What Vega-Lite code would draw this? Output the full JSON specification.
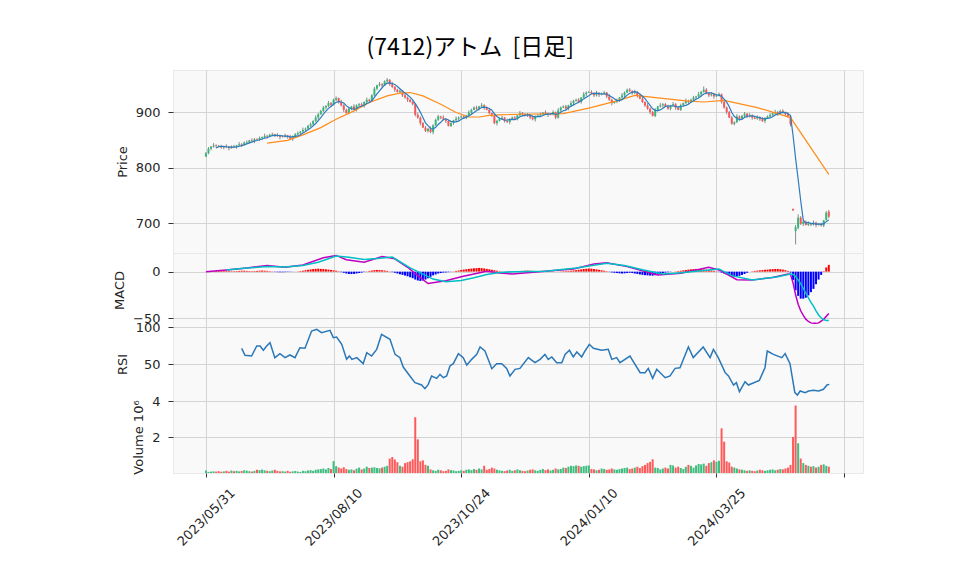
{
"$schema": "https://vega.github.io/schema/vega-lite/v6.json",
"background": "white",
"padding": {"left": 113, "top": 36, "right": 0, "bottom": 0},
"title": {"text": "(7412)アトム\u00a0 [日足]", "font": "Noto Sans CJK JP", "fontSize": 23, "fontWeight": "normal", "color": "#000000", "anchor": "middle", "frame": "bounds", "dx": -18, "offset": 10},
"spacing": 0,
"bounds": "flush",
"config": {
  "view": {"fill": "#f9f9f9", "stroke": "#e8e8e8", "strokeWidth": 1},
  "axis": {"labelFont": "DejaVu Sans", "titleFont": "DejaVu Sans", "labelFontSize": 13, "titleFontSize": 13, "titleFontWeight": "normal", "labelColor": "#262626", "titleColor": "#262626", "gridColor": "#d4d4d4", "gridWidth": 1, "tickColor": "#333333", "domain": false, "labelFlush": false}
},
"datasets": {
"bars": [
{"i":0,"o":820,"h":828,"l":819,"c":826,"v":0.14,"vu":1,"m":0},
{"i":1,"o":826,"h":837,"l":824,"c":834,"v":0.06,"vu":1,"m":0},
{"i":2,"o":834,"h":839,"l":831,"c":838,"v":0.08,"vu":1,"m":0},
{"i":3,"o":838,"h":844,"l":836,"c":840,"v":0.09,"vu":1,"m":0.5},
{"i":4,"o":840,"h":842,"l":835,"c":839,"v":0.08,"vu":0,"m":0.8,"a":835.4},
{"i":5,"o":839,"h":841,"l":837,"c":838,"v":0.10,"vu":0,"m":1,"a":837.8},
{"i":6,"o":838,"h":841,"l":834,"c":836,"v":0.07,"vu":0,"m":1,"a":838.2},
{"i":7,"o":836,"h":839,"l":833,"c":838,"v":0.09,"vu":1,"m":1,"a":838.2},
{"i":8,"o":838,"h":842,"l":835,"c":837,"v":0.12,"vu":0,"m":0.8,"a":837.6},
{"i":9,"o":837,"h":839,"l":831,"c":835,"v":0.08,"vu":0,"m":0.6,"a":836.8},
{"i":10,"o":835,"h":840,"l":834,"c":838,"v":0.14,"vu":1,"m":0.5,"a":836.8},
{"i":11,"o":838,"h":841,"l":835,"c":837,"v":0.10,"vu":0,"m":0.5,"a":837},
{"i":12,"o":837,"h":841,"l":834,"c":840,"v":0.12,"vu":1,"m":0.6,"a":837.4},
{"i":13,"o":840,"h":846,"l":838,"c":842,"v":0.09,"vu":1,"m":0.8,"a":838.4},
{"i":14,"o":842,"h":844,"l":837,"c":841,"v":0.11,"vu":0,"m":1,"a":839.6},
{"i":15,"o":841,"h":847,"l":840,"c":845,"v":0.15,"vu":1,"m":1,"a":841},
{"i":16,"o":845,"h":849,"l":843,"c":846,"v":0.13,"vu":1,"m":0.8,"a":842.8},
{"i":17,"o":846,"h":850,"l":843,"c":849,"v":0.10,"vu":1,"m":0.6,"a":844.6},
{"i":18,"o":849,"h":853,"l":846,"c":848,"v":0.08,"vu":0,"m":0.5,"a":845.8},
{"i":19,"o":848,"h":853,"l":844,"c":851,"v":0.12,"vu":1,"m":0.6,"a":847.8},
{"i":20,"o":851,"h":853,"l":849,"c":850,"v":0.18,"vu":0,"m":0.8,"a":848.8},
{"i":21,"o":850,"h":856,"l":848,"c":853,"v":0.16,"vu":1,"m":1,"a":850.2},
{"i":22,"o":853,"h":856,"l":850,"c":855,"v":0.19,"vu":1,"m":1.2,"a":851.4},
{"i":23,"o":855,"h":861,"l":853,"c":857,"v":0.15,"vu":1,"m":1,"a":853.2},
{"i":24,"o":857,"h":859,"l":852,"c":856,"v":0.12,"vu":0,"m":0.8,"a":854.2},
{"i":25,"o":856,"h":861,"l":855,"c":859,"v":0.10,"vu":1,"m":0.5,"a":856},
{"i":26,"o":859,"h":863,"l":857,"c":860,"v":0.14,"vu":1,"m":0.3,"a":857.4},
{"i":27,"o":860,"h":861,"l":855,"c":858,"v":0.18,"vu":0,"m":-0.3,"a":858},
{"i":28,"o":858,"h":862,"l":855,"c":857,"v":0.12,"vu":0,"m":-0.5,"a":858},
{"i":29,"o":857,"h":859,"l":851,"c":855,"v":0.09,"vu":0,"m":-0.6,"a":857.8},
{"i":30,"o":855,"h":858,"l":854,"c":856,"v":0.10,"vu":1,"m":-0.6,"a":857.2},
{"i":31,"o":856,"h":861,"l":854,"c":858,"v":0.08,"vu":1,"m":-0.5,"a":856.8},
{"i":32,"o":858,"h":859,"l":852,"c":855,"v":0.12,"vu":0,"m":-0.4,"a":856.2},
{"i":33,"o":855,"h":859,"l":850,"c":852,"v":0.07,"vu":0,"m":-0.3,"a":855.2},
{"i":34,"o":852,"h":858,"l":848,"c":856,"v":0.09,"vu":1,"m":-0.2,"a":855.4},
{"i":35,"o":856,"h":862,"l":855,"c":860,"v":0.11,"vu":1,"m":-0.1,"a":856.2},
{"i":36,"o":860,"h":865,"l":858,"c":862,"v":0.08,"vu":1,"m":0.3,"a":857},
{"i":37,"o":862,"h":866,"l":859,"c":865,"v":0.06,"vu":1,"m":0.6,"a":859},
{"i":38,"o":865,"h":872,"l":863,"c":868,"v":0.12,"vu":1,"m":1,"a":862.2},
{"i":39,"o":868,"h":872,"l":864,"c":870,"v":0.10,"vu":1,"m":1.5,"a":865},
{"i":40,"o":870,"h":877,"l":869,"c":875,"v":0.14,"vu":1,"m":2,"a":868},
{"i":41,"o":875,"h":881,"l":873,"c":878,"v":0.16,"vu":1,"m":2.4,"a":871.2},
{"i":42,"o":878,"h":885,"l":875,"c":884,"v":0.12,"vu":1,"m":2.8,"a":875},
{"i":43,"o":884,"h":894,"l":882,"c":890,"v":0.18,"vu":1,"m":3,"a":879.4},
{"i":44,"o":890,"h":898,"l":886,"c":896,"v":0.20,"vu":1,"m":3.2,"a":884.6},
{"i":45,"o":896,"h":904,"l":895,"c":902,"v":0.22,"vu":1,"m":3,"a":890},
{"i":46,"o":902,"h":911,"l":900,"c":908,"v":0.25,"vu":1,"m":2.8,"a":896},
{"i":47,"o":908,"h":912,"l":905,"c":911,"v":0.20,"vu":1,"m":2.5,"a":901.4},
{"i":48,"o":911,"h":920,"l":909,"c":916,"v":0.28,"vu":1,"m":2.2,"a":906.6},
{"i":49,"o":916,"h":918,"l":909,"c":913,"v":0.22,"vu":0,"m":1.8,"a":910},
{"i":50,"o":913,"h":924,"l":912,"c":922,"v":0.66,"vu":1,"m":1.4,"a":914},
{"i":51,"o":922,"h":928,"l":920,"c":925,"v":0.38,"vu":1,"m":1,"a":917.4},
{"i":52,"o":925,"h":926,"l":915,"c":918,"v":0.30,"vu":0,"m":0.5,"a":918.8},
{"i":53,"o":918,"h":922,"l":910,"c":912,"v":0.25,"vu":0,"m":-0.5,"a":918},
{"i":54,"o":912,"h":914,"l":900,"c":904,"v":0.32,"vu":0,"m":-1.2,"a":916.2},
{"i":55,"o":904,"h":906,"l":897,"c":898,"v":0.22,"vu":0,"m":-2,"a":911.4},
{"i":56,"o":898,"h":909,"l":896,"c":906,"v":0.18,"vu":1,"m":-2.5,"a":907.6},
{"i":57,"o":906,"h":911,"l":903,"c":910,"v":0.20,"vu":1,"m":-2.6,"a":906},
{"i":58,"o":910,"h":914,"l":903,"c":905,"v":0.15,"vu":0,"m":-2.4,"a":904.6},
{"i":59,"o":905,"h":914,"l":901,"c":912,"v":0.24,"vu":1,"m":-2,"a":906.2},
{"i":60,"o":912,"h":916,"l":911,"c":914,"v":0.30,"vu":1,"m":-1.5,"a":909.4},
{"i":61,"o":914,"h":917,"l":909,"c":911,"v":0.20,"vu":0,"m":-1,"a":910.4},
{"i":62,"o":911,"h":919,"l":908,"c":918,"v":0.25,"vu":1,"m":-0.4,"a":912},
{"i":63,"o":918,"h":926,"l":916,"c":922,"v":0.35,"vu":1,"m":0.3,"a":915.4},
{"i":64,"o":922,"h":924,"l":916,"c":920,"v":0.28,"vu":0,"m":0.8,"a":917},
{"i":65,"o":920,"h":932,"l":919,"c":930,"v":0.30,"vu":1,"m":1.2,"a":920.2},
{"i":66,"o":930,"h":945,"l":928,"c":942,"v":0.32,"vu":1,"m":1.6,"a":926.4},
{"i":67,"o":942,"h":949,"l":939,"c":948,"v":0.28,"vu":1,"m":1.8,"a":932.4},
{"i":68,"o":948,"h":954,"l":946,"c":950,"v":0.26,"vu":1,"m":1.7,"a":938},
{"i":69,"o":950,"h":952,"l":944,"c":948,"v":0.30,"vu":0,"m":1.5,"a":943.6},
{"i":70,"o":948,"h":957,"l":947,"c":955,"v":0.35,"vu":1,"m":1.2,"a":948.6},
{"i":71,"o":955,"h":961,"l":953,"c":958,"v":0.40,"vu":1,"m":0.8,"a":951.8},
{"i":72,"o":958,"h":959,"l":947,"c":950,"v":0.80,"vu":0,"m":0.3,"a":952.2},
{"i":73,"o":950,"h":954,"l":943,"c":945,"v":0.89,"vu":0,"m":-0.5,"a":951.2},
{"i":74,"o":945,"h":947,"l":936,"c":940,"v":0.75,"vu":0,"m":-1.2,"a":949.6},
{"i":75,"o":940,"h":942,"l":935,"c":936,"v":0.60,"vu":0,"m":-2,"a":945.8},
{"i":76,"o":936,"h":941,"l":934,"c":938,"v":0.40,"vu":1,"m":-2.8,"a":941.8},
{"i":77,"o":938,"h":939,"l":927,"c":930,"v":0.35,"vu":0,"m":-3.5,"a":937.8},
{"i":78,"o":930,"h":934,"l":924,"c":926,"v":0.55,"vu":0,"m":-4.2,"a":934},
{"i":79,"o":926,"h":928,"l":918,"c":922,"v":0.60,"vu":0,"m":-5,"a":930.4},
{"i":80,"o":922,"h":924,"l":917,"c":918,"v":0.65,"vu":0,"m":-6,"a":926.8},
{"i":81,"o":918,"h":921,"l":912,"c":914,"v":0.76,"vu":0,"m":-7,"a":922},
{"i":82,"o":914,"h":916,"l":892,"c":895,"v":3.10,"vu":0,"m":-8.5,"a":915},
{"i":83,"o":895,"h":899,"l":888,"c":890,"v":1.87,"vu":0,"m":-9.5,"a":907.8},
{"i":84,"o":890,"h":892,"l":876,"c":880,"v":0.65,"vu":0,"m":-10,"a":899.4},
{"i":85,"o":880,"h":882,"l":871,"c":872,"v":0.70,"vu":0,"m":-9.5,"a":890.2},
{"i":86,"o":872,"h":875,"l":864,"c":866,"v":0.45,"vu":0,"m":-8.5,"a":880.6},
{"i":87,"o":866,"h":871,"l":863,"c":870,"v":0.40,"vu":1,"m":-7,"a":875.6},
{"i":88,"o":870,"h":874,"l":862,"c":864,"v":0.20,"vu":0,"m":-5.5,"a":870.4},
{"i":89,"o":864,"h":878,"l":860,"c":876,"v":0.15,"vu":1,"m":-4,"a":869.6},
{"i":90,"o":876,"h":888,"l":875,"c":886,"v":0.12,"vu":1,"m":-3,"a":872.4},
{"i":91,"o":886,"h":895,"l":884,"c":892,"v":0.18,"vu":1,"m":-2,"a":877.6},
{"i":92,"o":892,"h":893,"l":887,"c":890,"v":0.15,"vu":0,"m":-1.5,"a":881.6},
{"i":93,"o":890,"h":894,"l":885,"c":887,"v":0.10,"vu":0,"m":-1,"a":886.2},
{"i":94,"o":887,"h":889,"l":880,"c":884,"v":0.12,"vu":0,"m":-0.8,"a":887.8},
{"i":95,"o":884,"h":886,"l":874,"c":875,"v":0.20,"vu":0,"m":-0.5,"a":885.6},
{"i":96,"o":875,"h":883,"l":873,"c":880,"v":0.16,"vu":1,"m":-0.2,"a":883.2},
{"i":97,"o":880,"h":886,"l":877,"c":885,"v":0.14,"vu":1,"m":0.3,"a":882.2},
{"i":98,"o":885,"h":892,"l":883,"c":888,"v":0.10,"vu":1,"m":0.8,"a":882.4},
{"i":99,"o":888,"h":892,"l":884,"c":890,"v":0.12,"vu":1,"m":1.2,"a":883.6},
{"i":100,"o":890,"h":894,"l":889,"c":892,"v":0.15,"vu":1,"m":1.8,"a":887},
{"i":101,"o":892,"h":895,"l":888,"c":890,"v":0.12,"vu":0,"m":2.2,"a":889},
{"i":102,"o":890,"h":895,"l":887,"c":894,"v":0.18,"vu":1,"m":2.6,"a":890.8},
{"i":103,"o":894,"h":903,"l":892,"c":899,"v":0.20,"vu":1,"m":3,"a":893},
{"i":104,"o":899,"h":906,"l":895,"c":904,"v":0.16,"vu":1,"m":3.3,"a":895.8},
{"i":105,"o":904,"h":910,"l":903,"c":908,"v":0.22,"vu":1,"m":3.6,"a":899},
{"i":106,"o":908,"h":911,"l":904,"c":906,"v":0.18,"vu":0,"m":3.8,"a":902.2},
{"i":107,"o":906,"h":911,"l":903,"c":910,"v":0.25,"vu":1,"m":4,"a":905.4},
{"i":108,"o":910,"h":916,"l":908,"c":912,"v":0.20,"vu":1,"m":3.8,"a":908},
{"i":109,"o":912,"h":914,"l":904,"c":908,"v":0.40,"vu":0,"m":3.4,"a":908.8},
{"i":110,"o":908,"h":910,"l":903,"c":904,"v":0.18,"vu":0,"m":3,"a":908},
{"i":111,"o":904,"h":907,"l":896,"c":898,"v":0.22,"vu":0,"m":2.5,"a":906.4},
{"i":112,"o":898,"h":899,"l":891,"c":894,"v":0.30,"vu":0,"m":2,"a":903.2},
{"i":113,"o":894,"h":898,"l":878,"c":880,"v":0.25,"vu":0,"m":1.5,"a":896.8},
{"i":114,"o":880,"h":886,"l":876,"c":884,"v":0.18,"vu":1,"m":1,"a":892},
{"i":115,"o":884,"h":890,"l":883,"c":888,"v":0.15,"vu":1,"m":0.5,"a":888.8},
{"i":116,"o":888,"h":893,"l":886,"c":890,"v":0.12,"vu":1,"m":0.2,"a":887.2},
{"i":117,"o":890,"h":891,"l":881,"c":884,"v":0.10,"vu":0,"m":-0.2,"a":885.2},
{"i":118,"o":884,"h":888,"l":880,"c":882,"v":0.14,"vu":0,"m":-0.5,"a":885.6},
{"i":119,"o":882,"h":889,"l":878,"c":887,"v":0.18,"vu":1,"m":-0.6,"a":886.2},
{"i":120,"o":887,"h":892,"l":886,"c":890,"v":0.12,"vu":1,"m":-0.5,"a":886.6},
{"i":121,"o":890,"h":893,"l":886,"c":888,"v":0.15,"vu":0,"m":-0.3,"a":886.2},
{"i":122,"o":888,"h":895,"l":885,"c":894,"v":0.20,"vu":1,"m":0,"a":888.2},
{"i":123,"o":894,"h":902,"l":892,"c":898,"v":0.16,"vu":1,"m":0.4,"a":891.4},
{"i":124,"o":898,"h":900,"l":892,"c":896,"v":0.12,"vu":0,"m":0.8,"a":893.2},
{"i":125,"o":896,"h":898,"l":892,"c":893,"v":0.10,"vu":0,"m":1,"a":893.8},
{"i":126,"o":893,"h":898,"l":891,"c":895,"v":0.14,"vu":1,"m":1.1,"a":895.2},
{"i":127,"o":895,"h":896,"l":887,"c":890,"v":0.18,"vu":0,"m":1,"a":894.4},
{"i":128,"o":890,"h":894,"l":885,"c":887,"v":0.20,"vu":0,"m":0.8,"a":892.2},
{"i":129,"o":887,"h":894,"l":883,"c":892,"v":0.15,"vu":1,"m":0.5,"a":891.4},
{"i":130,"o":892,"h":896,"l":891,"c":894,"v":0.12,"vu":1,"m":0.3,"a":891.6},
{"i":131,"o":894,"h":899,"l":892,"c":896,"v":0.18,"vu":1,"m":0.2,"a":891.8},
{"i":132,"o":896,"h":900,"l":893,"c":899,"v":0.22,"vu":1,"m":0.3,"a":893.6},
{"i":133,"o":899,"h":903,"l":895,"c":897,"v":0.16,"vu":0,"m":0.2,"a":895.6},
{"i":134,"o":897,"h":899,"l":891,"c":895,"v":0.20,"vu":0,"m":0.1,"a":896.2},
{"i":135,"o":895,"h":898,"l":894,"c":896,"v":0.14,"vu":1,"m":0.1,"a":896.6},
{"i":136,"o":896,"h":903,"l":894,"c":900,"v":0.18,"vu":1,"m":0.2,"a":897.4},
{"i":137,"o":900,"h":901,"l":887,"c":890,"v":0.25,"vu":0,"m":0,"a":895.6},
{"i":138,"o":890,"h":907,"l":888,"c":903,"v":0.20,"vu":1,"m":0.2,"a":896.8},
{"i":139,"o":903,"h":910,"l":899,"c":908,"v":0.22,"vu":1,"m":0.3,"a":899.4},
{"i":140,"o":908,"h":912,"l":907,"c":910,"v":0.30,"vu":1,"m":0.5,"a":902.2},
{"i":141,"o":910,"h":913,"l":904,"c":906,"v":0.28,"vu":0,"m":0.6,"a":903.4},
{"i":142,"o":906,"h":913,"l":903,"c":912,"v":0.35,"vu":1,"m":0.8,"a":907.8},
{"i":143,"o":912,"h":920,"l":910,"c":916,"v":0.40,"vu":1,"m":1,"a":910.4},
{"i":144,"o":916,"h":922,"l":912,"c":920,"v":0.38,"vu":1,"m":1.3,"a":912.8},
{"i":145,"o":920,"h":924,"l":919,"c":922,"v":0.42,"vu":1,"m":1.6,"a":915.2},
{"i":146,"o":922,"h":925,"l":916,"c":918,"v":0.40,"vu":0,"m":2,"a":917.6},
{"i":147,"o":918,"h":927,"l":915,"c":926,"v":0.35,"vu":1,"m":2.4,"a":920.4},
{"i":148,"o":926,"h":936,"l":924,"c":932,"v":0.38,"vu":1,"m":2.8,"a":923.6},
{"i":149,"o":932,"h":937,"l":928,"c":935,"v":0.40,"vu":1,"m":3.1,"a":926.6},
{"i":150,"o":935,"h":938,"l":934,"c":936,"v":0.42,"vu":1,"m":3.3,"a":929.4},
{"i":151,"o":936,"h":939,"l":932,"c":934,"v":0.22,"vu":0,"m":3.2,"a":932.6},
{"i":152,"o":934,"h":935,"l":927,"c":930,"v":0.20,"vu":0,"m":2.8,"a":933.4},
{"i":153,"o":930,"h":938,"l":928,"c":934,"v":0.15,"vu":1,"m":2.4,"a":933.8},
{"i":154,"o":934,"h":936,"l":927,"c":931,"v":0.18,"vu":0,"m":2,"a":933},
{"i":155,"o":931,"h":935,"l":930,"c":933,"v":0.25,"vu":1,"m":1.5,"a":932.4},
{"i":156,"o":933,"h":938,"l":931,"c":935,"v":0.22,"vu":1,"m":1,"a":932.6},
{"i":157,"o":935,"h":936,"l":925,"c":928,"v":0.18,"vu":0,"m":0.5,"a":932.2},
{"i":158,"o":928,"h":932,"l":920,"c":922,"v":0.20,"vu":0,"m":-0.3,"a":929.8},
{"i":159,"o":922,"h":924,"l":912,"c":916,"v":0.25,"vu":0,"m":-0.8,"a":926.8},
{"i":160,"o":916,"h":920,"l":915,"c":918,"v":0.20,"vu":1,"m":-1.2,"a":923.8},
{"i":161,"o":918,"h":924,"l":916,"c":921,"v":0.18,"vu":1,"m":-1.5,"a":921},
{"i":162,"o":921,"h":927,"l":918,"c":926,"v":0.22,"vu":1,"m":-1.8,"a":920.6},
{"i":163,"o":926,"h":934,"l":924,"c":930,"v":0.25,"vu":1,"m":-2,"a":922.2},
{"i":164,"o":930,"h":937,"l":926,"c":935,"v":0.28,"vu":1,"m":-1.8,"a":926},
{"i":165,"o":935,"h":942,"l":934,"c":940,"v":0.30,"vu":1,"m":-1.5,"a":930.4},
{"i":166,"o":940,"h":943,"l":936,"c":938,"v":0.22,"vu":0,"m":-1.2,"a":933.8},
{"i":167,"o":938,"h":939,"l":931,"c":934,"v":0.25,"vu":0,"m":-1.5,"a":935.4},
{"i":168,"o":934,"h":940,"l":932,"c":936,"v":0.30,"vu":1,"m":-2,"a":936.6},
{"i":169,"o":936,"h":938,"l":926,"c":930,"v":0.35,"vu":0,"m":-2.5,"a":935.6},
{"i":170,"o":930,"h":932,"l":923,"c":924,"v":0.28,"vu":0,"m":-3,"a":932.4},
{"i":171,"o":924,"h":927,"l":916,"c":918,"v":0.38,"vu":0,"m":-3.5,"a":928.4},
{"i":172,"o":918,"h":919,"l":909,"c":912,"v":0.45,"vu":0,"m":-3.8,"a":924},
{"i":173,"o":912,"h":916,"l":904,"c":906,"v":0.55,"vu":0,"m":-4,"a":918},
{"i":174,"o":906,"h":908,"l":896,"c":900,"v":0.62,"vu":0,"m":-4.2,"a":912},
{"i":175,"o":900,"h":902,"l":892,"c":893,"v":0.76,"vu":0,"m":-4.3,"a":905.8},
{"i":176,"o":893,"h":907,"l":891,"c":904,"v":0.30,"vu":1,"m":-3.8,"a":903},
{"i":177,"o":904,"h":911,"l":901,"c":910,"v":0.28,"vu":1,"m":-3,"a":902.6},
{"i":178,"o":910,"h":916,"l":908,"c":912,"v":0.20,"vu":1,"m":-2.2,"a":903.8},
{"i":179,"o":912,"h":916,"l":908,"c":914,"v":0.25,"vu":1,"m":-1.5,"a":906.6},
{"i":180,"o":914,"h":916,"l":909,"c":910,"v":0.30,"vu":0,"m":-1,"a":910},
{"i":181,"o":910,"h":913,"l":904,"c":906,"v":0.25,"vu":0,"m":-0.6,"a":910.4},
{"i":182,"o":906,"h":913,"l":903,"c":912,"v":0.45,"vu":1,"m":-0.3,"a":910.8},
{"i":183,"o":912,"h":918,"l":910,"c":914,"v":0.42,"vu":1,"m":0,"a":911.2},
{"i":184,"o":914,"h":916,"l":904,"c":908,"v":0.30,"vu":0,"m":0.3,"a":910},
{"i":185,"o":908,"h":910,"l":903,"c":904,"v":0.35,"vu":0,"m":0.6,"a":908.8},
{"i":186,"o":904,"h":915,"l":902,"c":912,"v":0.28,"vu":1,"m":1,"a":910},
{"i":187,"o":912,"h":917,"l":909,"c":916,"v":0.22,"vu":1,"m":1.4,"a":910.8},
{"i":188,"o":916,"h":924,"l":914,"c":920,"v":0.35,"vu":1,"m":1.8,"a":912},
{"i":189,"o":920,"h":922,"l":914,"c":918,"v":0.45,"vu":0,"m":2.2,"a":914},
{"i":190,"o":918,"h":924,"l":917,"c":922,"v":0.40,"vu":1,"m":2.5,"a":917.6},
{"i":191,"o":922,"h":929,"l":920,"c":926,"v":0.30,"vu":1,"m":2.8,"a":920.4},
{"i":192,"o":926,"h":929,"l":923,"c":928,"v":0.42,"vu":1,"m":2.9,"a":922.8},
{"i":193,"o":928,"h":936,"l":926,"c":932,"v":0.50,"vu":1,"m":2.8,"a":925.2},
{"i":194,"o":932,"h":938,"l":928,"c":936,"v":0.48,"vu":1,"m":2.6,"a":928.8},
{"i":195,"o":936,"h":946,"l":935,"c":940,"v":0.52,"vu":1,"m":2.3,"a":932.4},
{"i":196,"o":940,"h":943,"l":932,"c":934,"v":0.40,"vu":0,"m":2,"a":934},
{"i":197,"o":934,"h":935,"l":927,"c":930,"v":0.55,"vu":0,"m":1.6,"a":934.4},
{"i":198,"o":930,"h":936,"l":928,"c":932,"v":0.60,"vu":1,"m":1.2,"a":934.4},
{"i":199,"o":932,"h":934,"l":924,"c":928,"v":0.70,"vu":0,"m":0.8,"a":932.8},
{"i":200,"o":928,"h":932,"l":927,"c":930,"v":0.62,"vu":1,"m":0.4,"a":930.8},
{"i":201,"o":930,"h":935,"l":928,"c":932,"v":0.68,"vu":1,"m":-0.3,"a":930.4},
{"i":202,"o":932,"h":933,"l":915,"c":918,"v":2.48,"vu":0,"m":-1,"a":928},
{"i":203,"o":918,"h":922,"l":906,"c":908,"v":1.74,"vu":0,"m":-2,"a":923.2},
{"i":204,"o":908,"h":910,"l":896,"c":900,"v":0.65,"vu":0,"m":-3,"a":917.6},
{"i":205,"o":900,"h":902,"l":889,"c":890,"v":0.58,"vu":0,"m":-4,"a":909.6},
{"i":206,"o":890,"h":893,"l":877,"c":879,"v":0.35,"vu":0,"m":-5,"a":899},
{"i":207,"o":879,"h":883,"l":876,"c":882,"v":0.30,"vu":1,"m":-5.4,"a":891.8},
{"i":208,"o":882,"h":896,"l":880,"c":892,"v":0.25,"vu":1,"m":-5.2,"a":888.6},
{"i":209,"o":892,"h":894,"l":884,"c":888,"v":0.20,"vu":0,"m":-4.5,"a":886.2},
{"i":210,"o":888,"h":895,"l":887,"c":893,"v":0.18,"vu":1,"m":-3.5,"a":886.8},
{"i":211,"o":893,"h":900,"l":891,"c":897,"v":0.15,"vu":1,"m":-2.5,"a":890.4},
{"i":212,"o":897,"h":898,"l":889,"c":892,"v":0.12,"vu":0,"m":-1.2,"a":892.4},
{"i":213,"o":892,"h":898,"l":890,"c":894,"v":0.15,"vu":1,"m":0,"a":892.8},
{"i":214,"o":894,"h":896,"l":886,"c":890,"v":0.12,"vu":0,"m":0.4,"a":893.2},
{"i":215,"o":890,"h":892,"l":887,"c":888,"v":0.10,"vu":0,"m":0.8,"a":892.2},
{"i":216,"o":888,"h":894,"l":886,"c":891,"v":0.14,"vu":1,"m":1.1,"a":891},
{"i":217,"o":891,"h":892,"l":884,"c":887,"v":0.18,"vu":0,"m":1.4,"a":890},
{"i":218,"o":887,"h":891,"l":882,"c":884,"v":0.15,"vu":0,"m":1.7,"a":888},
{"i":219,"o":884,"h":891,"l":880,"c":889,"v":0.12,"vu":1,"m":2,"a":887.8},
{"i":220,"o":889,"h":894,"l":888,"c":892,"v":0.15,"vu":1,"m":2.2,"a":888.6},
{"i":221,"o":892,"h":898,"l":890,"c":895,"v":0.18,"vu":1,"m":2.5,"a":889.4},
{"i":222,"o":895,"h":899,"l":892,"c":898,"v":0.20,"vu":1,"m":2.7,"a":891.6},
{"i":223,"o":898,"h":904,"l":896,"c":900,"v":0.15,"vu":1,"m":2.9,"a":894.8},
{"i":224,"o":900,"h":902,"l":893,"c":897,"v":0.18,"vu":0,"m":2.9,"a":896.4},
{"i":225,"o":897,"h":904,"l":896,"c":902,"v":0.22,"vu":1,"m":2.6,"a":898.4},
{"i":226,"o":902,"h":905,"l":898,"c":900,"v":0.20,"vu":0,"m":2.2,"a":899.4},
{"i":227,"o":900,"h":901,"l":893,"c":896,"v":0.25,"vu":0,"m":1.6,"a":899},
{"i":228,"o":896,"h":900,"l":890,"c":892,"v":0.30,"vu":0,"m":0.8,"a":897.4},
{"i":229,"o":892,"h":894,"l":874,"c":878,"v":0.45,"vu":0,"m":-1,"a":893.6},
{"i":230,"o":726,"h":726,"l":723,"c":723,"v":2.00,"vu":0,"m":-9,"a":857.8},
{"i":231,"o":686,"h":697,"l":662,"c":693,"v":3.75,"vu":0,"m":-20,"a":816.4},
{"i":232,"o":692,"h":716,"l":689,"c":710,"v":1.65,"vu":1,"m":-26,"a":779.2},
{"i":233,"o":710,"h":713,"l":697,"c":699,"v":0.80,"vu":0,"m":-29,"a":740.6},
{"i":234,"o":699,"h":705,"l":695,"c":703,"v":0.55,"vu":1,"m":-29,"a":705.6},
{"i":235,"o":703,"h":705,"l":696,"c":697,"v":0.45,"vu":0,"m":-28,"a":700.4},
{"i":236,"o":697,"h":703,"l":695,"c":700,"v":0.40,"vu":1,"m":-25.5,"a":701.8},
{"i":237,"o":700,"h":701,"l":695,"c":698,"v":0.35,"vu":0,"m":-22,"a":699.4},
{"i":238,"o":698,"h":705,"l":696,"c":701,"v":0.38,"vu":1,"m":-18.5,"a":699.8},
{"i":239,"o":701,"h":703,"l":693,"c":697,"v":0.30,"vu":0,"m":-13.5,"a":698.6},
{"i":240,"o":697,"h":700,"l":696,"c":698,"v":0.35,"vu":1,"m":-8.5,"a":698.8},
{"i":241,"o":698,"h":701,"l":694,"c":696,"v":0.45,"vu":0,"m":-3.5,"a":698},
{"i":242,"o":696,"h":706,"l":693,"c":705,"v":0.48,"vu":1,"m":0.5,"a":699.4},
{"i":243,"o":706,"h":722,"l":705,"c":719,"v":0.40,"vu":1,"m":4.5,"a":703},
{"i":244,"o":721,"h":724,"l":709,"c":712,"v":0.35,"vu":0,"m":7.3,"a":706}
],
"ma25": [
{"i":24,"v":844},{"i":32,"v":849},{"i":38,"v":859},{"i":45,"v":872},{"i":51,"v":887},{"i":58,"v":902},{"i":64,"v":917},{"i":71,"v":929},{"i":76,"v":934},{"i":80,"v":935},{"i":85,"v":929},{"i":92,"v":914},{"i":98,"v":899},{"i":103,"v":891},{"i":107,"v":891},{"i":111,"v":894},{"i":115,"v":895},{"i":123,"v":896},{"i":140,"v":897},{"i":150,"v":907},{"i":161,"v":920},{"i":168,"v":930},{"i":178,"v":925},{"i":188,"v":920},{"i":195,"v":918},{"i":203,"v":921},{"i":216,"v":908},{"i":229,"v":890},{"i":244,"v":788}
],
"macd": [
{"i":0,"k":"macd","v":0},{"i":8,"k":"macd","v":1.8},{"i":16,"k":"macd","v":4},{"i":24,"k":"macd","v":6.5},{"i":31,"k":"macd","v":4.7},{"i":38,"k":"macd","v":7.2},{"i":46,"k":"macd","v":14.9},{"i":51,"k":"macd","v":17.4},{"i":55,"k":"macd","v":12.7},{"i":62,"k":"macd","v":10.1},{"i":69,"k":"macd","v":16.3},{"i":74,"k":"macd","v":13.8},{"i":79,"k":"macd","v":4.7},{"i":83,"k":"macd","v":-4.3},{"i":87,"k":"macd","v":-12.7},{"i":94,"k":"macd","v":-9.8},{"i":100,"k":"macd","v":-5.5},{"i":105,"k":"macd","v":-2.5},{"i":110,"k":"macd","v":0.4},{"i":115,"k":"macd","v":-1.5},{"i":120,"k":"macd","v":-2.5},{"i":133,"k":"macd","v":0.4},{"i":144,"k":"macd","v":2.9},{"i":152,"k":"macd","v":8.3},{"i":157,"k":"macd","v":9.4},{"i":165,"k":"macd","v":5.4},{"i":177,"k":"macd","v":-3.6},{"i":186,"k":"macd","v":-1.8},{"i":197,"k":"macd","v":4.7},{"i":201,"k":"macd","v":1.8},{"i":208,"k":"macd","v":-8.7},{"i":214,"k":"macd","v":-9.1},{"i":222,"k":"macd","v":-6.2},{"i":228,"k":"macd","v":-2.5},{"i":229,"k":"macd","v":-3},{"i":230,"k":"macd","v":-12},{"i":231,"k":"macd","v":-25},{"i":232,"k":"macd","v":-35},{"i":233,"k":"macd","v":-42},{"i":234,"k":"macd","v":-47},{"i":235,"k":"macd","v":-51},{"i":236,"k":"macd","v":-53.5},{"i":237,"k":"macd","v":-55},{"i":238,"k":"macd","v":-55.5},{"i":239,"k":"macd","v":-55.5},{"i":240,"k":"macd","v":-55},{"i":241,"k":"macd","v":-53},{"i":242,"k":"macd","v":-51},{"i":243,"k":"macd","v":-48},{"i":244,"k":"macd","v":-45},
{"i":8,"k":"signal","v":1.8},{"i":16,"k":"signal","v":3.8},{"i":24,"k":"signal","v":5.4},{"i":31,"k":"signal","v":4.9},{"i":38,"k":"signal","v":6.5},{"i":44,"k":"signal","v":10},{"i":51,"k":"signal","v":16.7},{"i":56,"k":"signal","v":15.5},{"i":62,"k":"signal","v":13},{"i":67,"k":"signal","v":14},{"i":73,"k":"signal","v":15.6},{"i":80,"k":"signal","v":4},{"i":89,"k":"signal","v":-8},{"i":94,"k":"signal","v":-10.9},{"i":100,"k":"signal","v":-9.5},{"i":105,"k":"signal","v":-6.5},{"i":110,"k":"signal","v":-3},{"i":115,"k":"signal","v":-1},{"i":121,"k":"signal","v":0},{"i":133,"k":"signal","v":0.4},{"i":145,"k":"signal","v":4},{"i":157,"k":"signal","v":9},{"i":164,"k":"signal","v":6.5},{"i":171,"k":"signal","v":2},{"i":179,"k":"signal","v":-2.5},{"i":185,"k":"signal","v":-1.5},{"i":192,"k":"signal","v":0.4},{"i":201,"k":"signal","v":2.9},{"i":206,"k":"signal","v":-4.3},{"i":214,"k":"signal","v":-9},{"i":224,"k":"signal","v":-5.4},{"i":229,"k":"signal","v":-2.5},{"i":230,"k":"signal","v":-3},{"i":231,"k":"signal","v":-5},{"i":232,"k":"signal","v":-9},{"i":233,"k":"signal","v":-13},{"i":234,"k":"signal","v":-18},{"i":235,"k":"signal","v":-23},{"i":236,"k":"signal","v":-28},{"i":237,"k":"signal","v":-33},{"i":238,"k":"signal","v":-37},{"i":239,"k":"signal","v":-42},{"i":240,"k":"signal","v":-46.5},{"i":241,"k":"signal","v":-49.5},{"i":242,"k":"signal","v":-51.5},{"i":243,"k":"signal","v":-52.5},{"i":244,"k":"signal","v":-52.3}
],
"rsi": [
{"i":14,"v":71.2},{"i":15.3,"v":61.7},{"i":17.9,"v":60.8},{"i":19.9,"v":74.3},{"i":21.2,"v":74.3},{"i":22.5,"v":68.5},{"i":23.8,"v":74.3},{"i":25.1,"v":78.8},{"i":27,"v":58.6},{"i":29,"v":64},{"i":31,"v":58.6},{"i":32.9,"v":62.2},{"i":34.9,"v":58.6},{"i":36.8,"v":72},{"i":38.8,"v":71.2},{"i":41.4,"v":94.6},{"i":43.4,"v":96.8},{"i":45.3,"v":92.3},{"i":48.6,"v":95.5},{"i":49.9,"v":85.6},{"i":51.2,"v":86.5},{"i":53.2,"v":76.6},{"i":55.1,"v":56.3},{"i":56.2,"v":60.8},{"i":57.2,"v":56.3},{"i":59.1,"v":58.6},{"i":61.6,"v":50.5},{"i":63,"v":65.3},{"i":64.9,"v":60.8},{"i":66.9,"v":69.8},{"i":68.8,"v":90.1},{"i":72.1,"v":83.3},{"i":74.1,"v":63},{"i":76,"v":58.6},{"i":77.3,"v":45.9},{"i":79.9,"v":33.8},{"i":81.9,"v":24.8},{"i":84.5,"v":21.6},{"i":85.8,"v":16.7},{"i":87.1,"v":22.5},{"i":88.4,"v":33.8},{"i":90.4,"v":30.6},{"i":91.7,"v":36},{"i":93,"v":31.5},{"i":94.3,"v":33.8},{"i":95.6,"v":47.3},{"i":96.9,"v":50.5},{"i":98.9,"v":64},{"i":100.8,"v":58.6},{"i":102.2,"v":48.6},{"i":104.1,"v":56.3},{"i":106.1,"v":63},{"i":107.4,"v":73},{"i":109.3,"v":67.6},{"i":112,"v":43.7},{"i":113.9,"v":50.5},{"i":115.9,"v":50.5},{"i":117.8,"v":44.1},{"i":119.1,"v":33.8},{"i":121.1,"v":42.8},{"i":123,"v":44.1},{"i":126.3,"v":58.6},{"i":128.9,"v":51.8},{"i":130.9,"v":56.3},{"i":132.8,"v":63},{"i":134.1,"v":56.3},{"i":135.5,"v":59.5},{"i":137.4,"v":51.8},{"i":139.4,"v":51.8},{"i":140.7,"v":63},{"i":142.4,"v":68.5},{"i":143.9,"v":59.5},{"i":145.3,"v":66.2},{"i":147.2,"v":59.5},{"i":148.5,"v":67.6},{"i":150.2,"v":76.6},{"i":151.8,"v":71.2},{"i":155,"v":68.5},{"i":157.6,"v":69.8},{"i":159,"v":56.3},{"i":160.9,"v":58.6},{"i":162.2,"v":51.8},{"i":166.1,"v":60.8},{"i":170.1,"v":38.3},{"i":172,"v":38.3},{"i":173.3,"v":44.1},{"i":175,"v":30.6},{"i":176.6,"v":42.8},{"i":179.9,"v":31.5},{"i":181.8,"v":33.8},{"i":183.8,"v":44.1},{"i":185.7,"v":45},{"i":189,"v":73},{"i":190.9,"v":58.6},{"i":194.8,"v":73},{"i":197.5,"v":58.6},{"i":198.8,"v":69.8},{"i":200.7,"v":58.6},{"i":203.4,"v":38.3},{"i":204.7,"v":33.8},{"i":206.7,"v":21.6},{"i":207.8,"v":24.8},{"i":209,"v":12.6},{"i":211.2,"v":26.1},{"i":212.5,"v":21.6},{"i":216.8,"v":27.9},{"i":219,"v":45},{"i":219.9,"v":67.6},{"i":222.3,"v":63},{"i":225.6,"v":58.6},{"i":226.9,"v":64},{"i":228.8,"v":50.5},{"i":230.7,"v":11.3},{"i":231.7,"v":8.1},{"i":232.8,"v":13.5},{"i":234.7,"v":11.3},{"i":236.1,"v":13.5},{"i":238,"v":14.4},{"i":240,"v":13.5},{"i":241.9,"v":15.8},{"i":243.3,"v":21.6},{"i":244.2,"v":22.5}
]
},
"vconcat": [
{
  "width": 690, "height": 183,
  "encoding": {"x": {"field": "i", "type": "quantitative", "scale": {"domain": [-12.9, 257.4], "nice": false, "zero": false, "padding": 0}, "axis": {"values": [0,50,100,150,200,250], "labels": false, "ticks": false, "title": null, "grid": true}}},
  "layer": [
    {"data": {"name": "bars"}, "mark": {"type": "rule", "color": "#8a8a8a", "strokeWidth": 1},
     "encoding": {"y": {"field": "l", "type": "quantitative", "title": "Price", "scale": {"domain": [646.6, 975.5], "nice": false, "zero": false}, "axis": {"values": [700, 800, 900], "tickSize": 5, "labelPadding": 8, "titlePadding": 6, "grid": true}}, "y2": {"field": "h"}}},
    {"data": {"name": "bars"}, "mark": {"type": "bar", "size": 2},
     "encoding": {"y": {"field": "o", "type": "quantitative", "title": "Price", "scale": {"domain": [646.6, 975.5], "nice": false, "zero": false}}, "y2": {"field": "c"},
       "color": {"condition": {"test": "datum.c >= datum.o", "value": "#35b87a"}, "value": "#fb5555"}}},
    {"data": {"name": "ma25"}, "mark": {"type": "line", "color": "#ff8c1a", "strokeWidth": 1.2},
     "encoding": {"y": {"field": "v", "type": "quantitative", "title": "Price", "scale": {"domain": [646.6, 975.5], "nice": false, "zero": false}}}},
    {"data": {"name": "bars"}, "mark": {"type": "line", "color": "#2c7bbf", "strokeWidth": 1.2},
     "encoding": {"y": {"field": "a", "type": "quantitative", "title": "Price", "scale": {"domain": [646.6, 975.5], "nice": false, "zero": false}}}}
  ]
},
{
  "width": 690, "height": 74,
  "encoding": {"x": {"field": "i", "type": "quantitative", "scale": {"domain": [-12.9, 257.4], "nice": false, "zero": false, "padding": 0}, "axis": {"values": [0,50,100,150,200,250], "labels": false, "ticks": false, "title": null, "grid": true}}},
  "layer": [
    {"data": {"name": "bars"}, "mark": {"type": "bar", "size": 2},
     "encoding": {"y": {"field": "m", "type": "quantitative", "title": "MACD", "scale": {"domain": [-59.4, 20], "nice": false, "zero": false}, "axis": {"values": [-50, 0], "tickSize": 5, "labelPadding": 8, "titlePadding": 6, "grid": true}}, "y2": {"datum": 0},
       "color": {"condition": {"test": "datum.m >= 0", "value": "#ff0000"}, "value": "#0000ff"}}},
    {"data": {"name": "macd"}, "mark": {"type": "line", "strokeWidth": 1.5},
     "encoding": {"y": {"field": "v", "type": "quantitative", "title": "MACD", "scale": {"domain": [-59.4, 20], "nice": false, "zero": false}},
       "color": {"field": "k", "type": "nominal", "scale": {"domain": ["macd", "signal"], "range": ["#c000c0", "#00bfc4"]}, "legend": null}}}
  ]
},
{
  "width": 690, "height": 74,
  "data": {"name": "rsi"},
  "mark": {"type": "line", "color": "#2a78b8", "strokeWidth": 1.5},
  "encoding": {
    "x": {"field": "i", "type": "quantitative", "scale": {"domain": [-12.9, 257.4], "nice": false, "zero": false, "padding": 0}, "axis": {"values": [0,50,100,150,200,250], "labels": false, "ticks": false, "title": null, "grid": true}},
    "y": {"field": "v", "type": "quantitative", "title": "RSI", "scale": {"domain": [0, 100], "nice": false}, "axis": {"values": [50, 100], "tickSize": 5, "labelPadding": 8, "titlePadding": 6, "grid": true}}
  }
},
{
  "width": 690, "height": 72,
  "data": {"name": "bars"},
  "mark": {"type": "bar", "size": 2},
  "encoding": {
    "x": {"field": "i", "type": "quantitative", "scale": {"domain": [-12.9, 257.4], "nice": false, "zero": false, "padding": 0}, "axis": {"values": [0,50,100,150,200,250], "labelExpr": "datum.value == 0 ? '2023/05/31' : datum.value == 50 ? '2023/08/10' : datum.value == 100 ? '2023/10/24' : datum.value == 150 ? '2024/01/10' : datum.value == 200 ? '2024/03/25' : ''", "labelAngle": -45, "labelAlign": "center", "labelBaseline": "middle", "labelPadding": 40, "tickSize": 4, "ticks": true, "title": null, "grid": true, "labelOverlap": false}},
    "y": {"field": "v", "type": "quantitative", "title": "Volume  10⁶", "scale": {"domain": [0, 4], "nice": false}, "axis": {"values": [2, 4], "tickSize": 5, "labelPadding": 8, "titlePadding": 6, "grid": true}},
    "y2": {"datum": 0},
    "color": {"condition": {"test": "datum.vu == 1", "value": "#3dbd7f"}, "value": "#fd5a5a"}
  }
}
]
}
